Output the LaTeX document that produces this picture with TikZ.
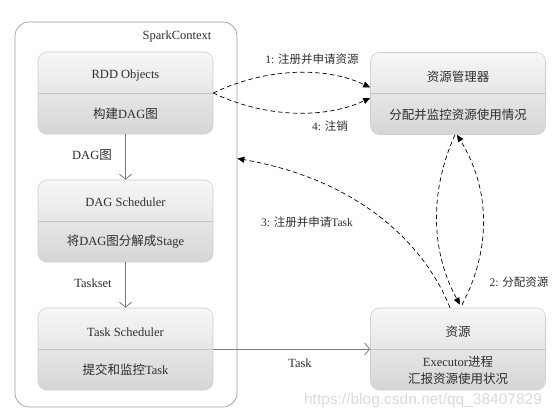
\documentclass[tikz,border=0pt]{standalone}
\usepackage{fontspec}
\setmainfont{Liberation Serif}
\newfontfamily\cjk{Noto Sans CJK SC}
\newfontfamily\wmfont{Liberation Sans}
\usetikzlibrary{arrows.meta}
\newcommand{\zh}[1]{{\cjk #1}}
\definecolor{boxline}{HTML}{CFCFCF}
\definecolor{boxtop}{HTML}{F7F7F7}
\definecolor{boxbot}{HTML}{D5D5D5}
\definecolor{scline}{HTML}{9C9C9C}
\definecolor{divline}{HTML}{C4C4C4}
\definecolor{arrowgray}{HTML}{7A7A7A}
\definecolor{txtcol}{HTML}{2E2E2E}
\definecolor{wmcol}{HTML}{DADADA}
\begin{document}
\begin{tikzpicture}[x=1pt,y=-1pt,
  box/.style={draw=boxline, line width=0.6pt, rounded corners=9pt, top color=boxtop, bottom color=boxbot,
    minimum width=175pt, minimum height=82pt, inner sep=0pt},
  scbox/.style={draw=scline, line width=0.7pt, rounded corners=14pt, fill=white,
    minimum width=222pt, minimum height=385pt, inner sep=0pt},
  divider/.style={draw=divline, line width=0.6pt},
  txt/.style={text=txtcol, font=\fontsize{12.5}{15}\selectfont, inner sep=1pt},
  lbl/.style={text=txtcol, font=\fontsize{12.5}{15}\selectfont, inner sep=1pt},
  numlbl/.style={text=txtcol, font=\fontsize{11.5}{14}\selectfont, inner sep=1pt},
  flow/.style={draw=arrowgray, line width=0.8pt, -{Straight Barb[length=5pt,width=12pt]}},
  dsh/.style={draw=black, line width=0.7pt, dash pattern=on 4.5pt off 3pt, -{Triangle[length=7pt,width=6pt]}},
  wm/.style={text=wmcol, font=\wmfont\fontsize{15.5}{18}\selectfont, inner sep=0pt}
]
\useasboundingbox (0,0) rectangle (554,420);

% SparkContext frame
\node[scbox] (sc) at (126,214.5) {};
\node[txt] (sct) at (177,36) {SparkContext};

% boxes
\node[box] (rdd) at (125.5,93) {};
\node[box] (dag) at (125.5,221) {};
\node[box] (task) at (125.5,349) {};
\node[box] (rm) at (458,93.5) {};
\node[box] (res) at (458,349) {};

\foreach \b in {rdd,dag,task,rm,res}{\draw[divider] (\b.west) -- (\b.east);}

% box texts
\node[txt] (rddt) at (125.5,75) {RDD Objects};
\node[txt] (rdds) at (125.5,114) {\zh{构建}DAG\zh{图}};
\node[txt] (dagt) at (125.5,202) {DAG Scheduler};
\node[txt] (dags) at (125.5,242) {\zh{将}DAG\zh{图分解成}Stage};
\node[txt] (taskt) at (125.5,332) {Task Scheduler};
\node[txt] (tasks) at (125.5,370) {\zh{提交和监控}Task};
\node[txt] (rmt) at (458,77) {\zh{资源管理器}};
\node[txt] (rms) at (458,115) {\zh{分配并监控资源使用情况}};
\node[txt] (rest) at (458,332) {\zh{资源}};
\node[txt] (ress1) at (458,362) {Executor\zh{进程}};
\node[txt] (ress2) at (458,379) {\zh{汇报资源使用状况}};

% solid arrows
\draw[flow] (rdd) -- (dag);
\draw[flow] (dag) -- (task);
\draw[flow] (task.east) -- (res.west);
\node[lbl] (l0) at (92,155) {DAG\zh{图}};
\node[lbl] (lts) at (93,283) {Taskset};
\node[lbl] (lt) at (300,363) {Task};

% dashed arrows
\draw[dsh] (rdd.east) .. controls (265,68) and (325,66) .. ([yshift=6pt]rm.west);
\draw[dsh] (rdd.east) .. controls (265,118) and (325,119) .. ([yshift=-4.5pt]rm.west);
\draw[dsh] ([xshift=-8pt]res.north) .. controls (425,245) and (360,180) .. ([yshift=56pt]sc.east);
\draw[dsh] ([xshift=-3pt]rm.south) .. controls (430,190) and (430,250) .. ([xshift=2pt,yshift=3pt]res.north);
\draw[dsh] ([xshift=4pt,yshift=3pt]res.north) .. controls (491,250) and (491,190) .. ([xshift=-1pt]rm.south);

\node[numlbl] (l1) at (312,59) {1: \zh{注册并申请资源}};
\node[numlbl] (l4) at (330,126) {4: \zh{注销}};
\node[numlbl] (l3) at (307,222) {3: \zh{注册并申请}Task};
\node[numlbl] (l2) at (519,282) {2: \zh{分配资源}};

% watermark
\node[wm] (wmk) at (423,400) {https://blog.csdn.net/qq\_38407829};
\end{tikzpicture}
\end{document}
